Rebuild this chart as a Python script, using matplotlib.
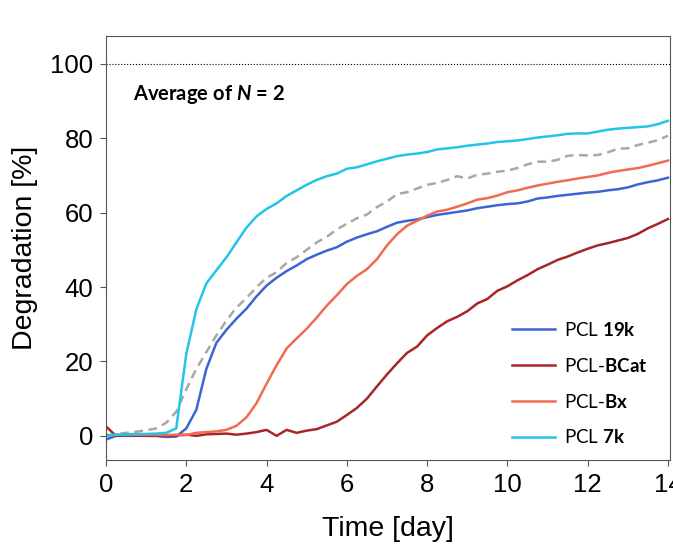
"""
Degradation over time for the PCL samples (average of N = 2).
"""
import matplotlib
matplotlib.use("Agg")
import matplotlib.pyplot as plt
import numpy as np

# time grid [day]
time_day = np.arange(0, 14.01, 0.25)

pcl_19k = [-1.0, 0.0, 0.0, 0.0, 0.0, 0.0, -0.3, -0.2, 2.0, 7.0,
           18.0, 25.0, 28.5, 31.5, 34.2, 37.5, 40.4, 42.5, 44.3, 45.8,
           47.5, 48.7, 49.8, 50.7, 52.2, 53.3, 54.2, 55.0, 56.2, 57.3,
           57.8, 58.2, 58.8, 59.4, 59.8, 60.2, 60.6, 61.2, 61.6, 62.0,
           62.3, 62.5, 63.0, 63.8, 64.1, 64.5, 64.8, 65.1, 65.4, 65.6,
           66.0, 66.3, 66.8, 67.6, 68.2, 68.7, 69.4]

pcl_bcat = [2.5, 0.0, 0.2, 0.1, 0.0, 0.0, 0.0, 0.1, 0.3, 0.0,
            0.4, 0.5, 0.6, 0.3, 0.6, 1.0, 1.6, 0.0, 1.6, 0.8,
            1.4, 1.8, 2.8, 3.8, 5.6, 7.5, 10.0, 13.3, 16.5, 19.5,
            22.3, 24.0, 27.0, 29.0, 30.8, 32.0, 33.5, 35.6, 36.8, 39.0,
            40.2, 41.8, 43.2, 44.8, 46.0, 47.3, 48.2, 49.3, 50.3, 51.2,
            51.8, 52.5, 53.2, 54.3, 55.8, 57.0, 58.3]

pcl_bx = [0.0, 0.3, 0.3, 0.3, 0.3, 0.3, 0.2, 0.3, 0.2, 0.8,
          1.0, 1.2, 1.6, 2.7, 5.0, 8.8, 14.0, 19.0, 23.5, 26.2,
          28.8, 31.8, 35.0, 37.8, 40.8, 43.0, 44.8, 47.5, 51.2, 54.2,
          56.5, 57.8, 59.2, 60.3, 60.8, 61.6, 62.5, 63.5, 63.9, 64.6,
          65.5, 66.0, 66.7, 67.3, 67.8, 68.3, 68.7, 69.2, 69.6, 70.0,
          70.7, 71.2, 71.6, 72.0, 72.6, 73.3, 74.0]

pcl_7k = [0.0, 0.3, 0.4, 0.5, 0.5, 0.6, 0.8, 2.0, 22.0, 34.0,
          41.0, 44.5, 48.0, 52.0, 56.0, 59.0, 61.0, 62.5, 64.5, 66.0,
          67.5, 68.8, 69.8, 70.5, 71.8, 72.2, 73.0, 73.8, 74.5, 75.2,
          75.6, 75.9, 76.3, 77.0, 77.3, 77.6, 78.0, 78.3, 78.6, 79.0,
          79.2, 79.4, 79.8, 80.2, 80.5, 80.8, 81.2, 81.3, 81.3, 81.8,
          82.3, 82.6, 82.8, 83.0, 83.2, 83.8, 84.7]

# grey dashed reference curve
reference = [0.2, 0.4, 0.8, 1.1, 1.5, 2.0, 3.5, 6.5, 12.5, 18.0,
             22.5, 27.0, 31.0, 34.5, 37.0, 40.0, 42.5, 44.0, 46.5, 48.0,
             50.0, 52.0, 53.5, 55.5, 57.0, 58.5, 59.5, 61.5, 63.0, 65.0,
             65.5, 66.5, 67.5, 68.0, 68.8, 69.8, 69.2, 70.2, 70.5, 71.0,
             71.3, 72.0, 73.0, 73.7, 73.7, 74.2, 75.3, 75.5, 75.4, 75.5,
             76.2, 77.2, 77.3, 78.2, 78.8, 79.5, 80.7]

plt.rcParams['font.family'] = ['Liberation Sans', 'DejaVu Sans']
plt.rcParams['mathtext.fontset'] = 'custom'
plt.rcParams['mathtext.rm'] = 'Lato'
plt.rcParams['mathtext.bf'] = 'Lato:bold'
plt.rcParams['mathtext.it'] = 'Lato:italic'
plt.rcParams['mathtext.bfit'] = 'Lato:bold:italic'

fig = plt.figure(figsize=(6.73, 5.45), dpi=100)
ax = fig.add_axes([106 / 673, 85 / 545, 564 / 673, 424 / 545])

ax.axhline(100, color='black', linestyle=':', linewidth=0.8)

ax.plot(time_day, reference, color='#a8a8a8', linestyle=(0, (3.5, 2.2)), linewidth=1.8)
ax.plot(time_day, pcl_19k, color='#3d64d6', linewidth=1.8, label=r'PCL $\mathbf{19k}$')
ax.plot(time_day, pcl_bcat, color='#a8262a', linewidth=1.8, label=r'PCL-$\mathbf{BCat}$')
ax.plot(time_day, pcl_bx, color='#f26a4f', linewidth=1.8, label=r'PCL-$\mathbf{Bx}$')
ax.plot(time_day, pcl_7k, color='#22c4e8', linewidth=1.8, label=r'PCL $\mathbf{7k}$')

ax.set_xlim(0, 14.05)
ax.set_ylim(-6.5, 107.5)
ax.set_xticks(range(0, 15, 2))
ax.set_yticks(range(0, 101, 20))
ax.tick_params(labelsize=18.5, length=4, color='#555555', pad=5)
for side in ax.spines.values():
    side.set_color('#555555')

ax.set_xlabel('Time [day]', fontsize=20.5, labelpad=14)
ax.set_ylabel('Degradation [%]', fontsize=20.5, labelpad=9)

ax.text(0.048, 0.862, r'Average of $\mathbfit{N}$ = 2', transform=ax.transAxes,
        fontsize=14.5, fontweight='bold', family='Lato', va='center', ha='left')

ax.legend(loc='upper left', bbox_to_anchor=(0.703, 0.35), frameon=False,
          borderpad=0, handlelength=2.3, handletextpad=0.5, labelspacing=0.95,
          prop={'family': 'Lato', 'size': 13.5})

fig.savefig('out.png', dpi=100)
